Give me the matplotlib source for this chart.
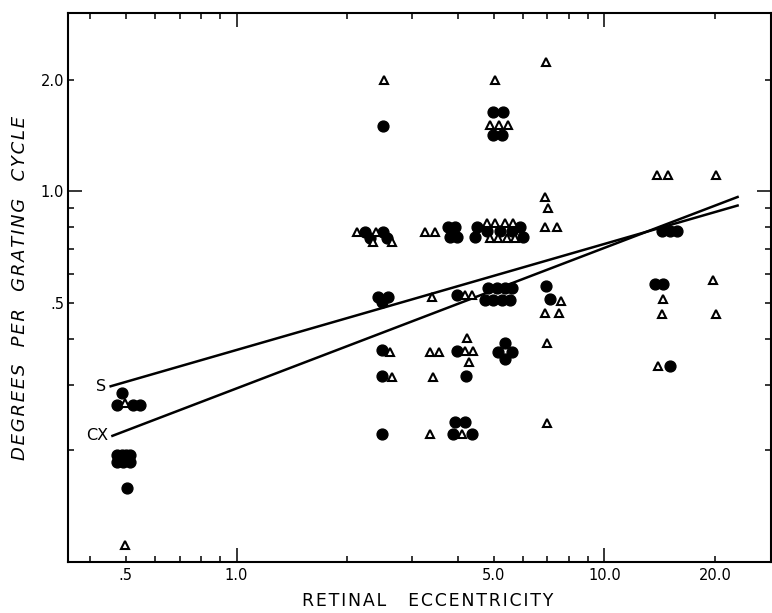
import matplotlib.pyplot as plt

# filled circles
circ_x = [0.488, 0.472, 0.524, 0.547,
          0.472, 0.487, 0.500, 0.513, 0.472, 0.490, 0.513, 0.503,
          2.50, 2.23, 2.50, 2.30, 2.56, 2.43, 2.585, 2.48, 2.48, 2.49, 2.48,
          3.76, 3.92, 3.80, 3.97, 3.97, 3.97, 4.21, 3.925, 4.18, 3.88, 4.36,
          4.99, 5.31, 4.99, 5.26,
          4.49, 5.89, 4.45, 6.02, 4.80, 5.20, 5.60,
          4.83, 5.10, 5.37, 5.60, 4.73, 4.98, 5.25, 5.53,
          5.37, 5.14, 5.60, 5.37,
          6.93, 7.10,
          14.3, 15.07, 15.72, 13.7, 14.46, 15.07]
circ_y = [0.285, 0.265, 0.265, 0.265,
          0.194, 0.194, 0.194, 0.194, 0.186, 0.186, 0.186, 0.158,
          1.50, 0.778, 0.778, 0.748, 0.748, 0.52, 0.52, 0.504, 0.373, 0.318, 0.222,
          0.804, 0.804, 0.755, 0.755, 0.525, 0.372, 0.318, 0.239, 0.239, 0.222, 0.222,
          1.643, 1.643, 1.42, 1.42,
          0.804, 0.804, 0.755, 0.755, 0.78, 0.78, 0.78,
          0.548, 0.548, 0.548, 0.548, 0.509, 0.509, 0.509, 0.509,
          0.389, 0.369, 0.369, 0.354,
          0.556, 0.512,
          0.784, 0.784, 0.784, 0.563, 0.563, 0.337]

# open triangles
tri_x = [0.498, 0.498,
         2.51, 2.12, 2.40, 2.35, 2.64, 2.61, 2.64,
         3.25, 3.46, 3.39, 3.36, 3.56, 3.41, 3.36,
         4.17, 4.36, 4.24, 4.18, 4.40, 4.27, 4.09,
         5.05, 4.89, 5.18, 5.48,
         4.79, 5.04, 5.37, 5.65, 4.89, 5.14, 5.42, 5.70,
         6.95, 6.89, 7.03, 6.89, 7.42, 7.60, 6.89, 7.50, 6.97, 6.99,
         13.86, 14.9, 20.1, 14.39, 14.3, 14.0, 19.7, 20.1]
tri_y = [0.268, 0.111,
         2.0, 0.778, 0.778, 0.732, 0.732, 0.369, 0.316,
         0.778, 0.778, 0.52, 0.369, 0.369, 0.316, 0.222,
         0.525, 0.525, 0.4015, 0.372, 0.372, 0.347, 0.222,
         2.0, 1.512, 1.512, 1.512,
         0.821, 0.821, 0.821, 0.821, 0.748, 0.748, 0.748, 0.748,
         2.23, 0.968, 0.901, 0.804, 0.804, 0.507, 0.469, 0.469, 0.389, 0.237,
         1.108, 1.108, 1.108, 0.512, 0.467, 0.337, 0.577, 0.467]

# fitted lines
s_x = [0.455, 23.0]
s_y = [0.298, 0.916]
cx_x = [0.46, 23.0]
cx_y = [0.219, 0.966]

x_major = [1, 10]
x_major_labels = ['1.0', '10.0']
x_minor = [0.4, 0.5, 0.6, 0.7, 0.8, 0.9, 2, 3, 4, 5, 6, 7, 8, 9, 20]
x_minor_labels = ['', '.5', '', '', '', '', '', '', '', '5.0', '', '', '', '', '20.0']
y_major = [1.0]
y_major_labels = ['1.0']
y_minor = [0.2, 0.3, 0.4, 0.5, 0.6, 0.7, 0.8, 0.9, 2.0]
y_minor_labels = ['', '', '', '.5', '', '', '', '', '2.0']

fig = plt.figure(figsize=(7.72, 6.13), dpi=100)
ax = fig.add_axes([68.3 / 772, 51 / 613, 703 / 772, 549 / 613])

ax.plot(s_x, s_y, color='black', lw=1.8, zorder=2.5)
ax.plot(cx_x, cx_y, color='black', lw=1.8, zorder=2.5)
ax.plot(circ_x, circ_y, 'o', ms=7.8, color='black', mec='black', zorder=2)
ax.plot(tri_x, tri_y, '^', ms=6.2, mfc='white', mec='black', mew=1.5, zorder=3)

ax.annotate('S', xy=(s_x[0], s_y[0]), xytext=(-3, 0), textcoords='offset points',
            ha='right', va='center', fontsize=11.5)
ax.annotate('CX', xy=(cx_x[0], cx_y[0]), xytext=(-3, 0), textcoords='offset points',
            ha='right', va='center', fontsize=11.5)

ax.set_xscale('log')
ax.set_yscale('log')
ax.set_xlim(0.349, 28.4)
ax.set_ylim(0.1, 3.03)

ax.set_xticks(x_major, x_major_labels)
ax.set_xticks(x_minor, x_minor_labels, minor=True)
ax.set_yticks(y_major, y_major_labels)
ax.set_yticks(y_minor, y_minor_labels, minor=True)

ax.tick_params(which='both', direction='in', top=True, right=True,
               width=1.1, labelsize=10.5)
ax.tick_params(which='major', length=10)
ax.tick_params(which='minor', length=4.5)
ax.tick_params(axis='x', which='both', pad=4)
ax.tick_params(axis='y', which='both', pad=3)
for sp in ax.spines.values():
    sp.set_linewidth(1.5)


def spaced(s):
    # widen the letter spacing like the hand lettering
    return '\u200a'.join(s)


xlabel = spaced('RETINAL') + '    ' + spaced('ECCENTRICITY')
ylabel = '   '.join(spaced(w) for w in ['DEGREES', 'PER', 'GRATING', 'CYCLE'])
fig.text(427.5 / 772, 1 - 601 / 613, xlabel,
         ha='center', va='center', fontsize=12.5)
fig.text(20 / 772, 1 - 287.5 / 613, ylabel, rotation=90,
         ha='center', va='center', fontsize=13, style='italic')

fig.savefig('out.png', dpi=100)
